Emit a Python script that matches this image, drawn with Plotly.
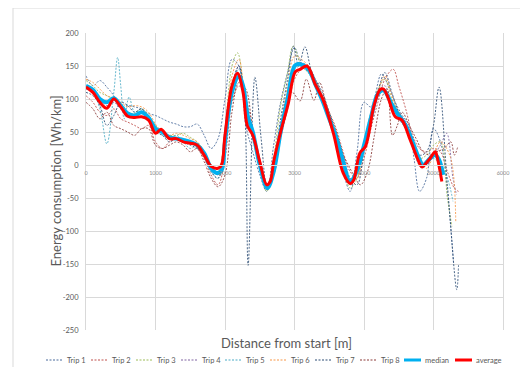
import plotly.graph_objects as go

# ---------------- data ----------------
trip1_x = [0, 100, 200, 300, 400, 500, 600, 700, 800, 900, 1000, 1100, 1200, 1300, 1400, 1500, 1600, 1700, 1800, 1900,
           2000, 2100, 2200, 2300, 2400, 2500, 2600, 2700, 2800, 2900, 3000, 3100, 3200, 3300, 3400, 3500, 3600, 3700,
           3800, 3900, 4000, 4100, 4250, 4350, 4450, 4550, 4650, 4720, 4800, 4900, 5000, 5100, 5200, 5290]
trip1_y = [135, 120, 128, 118, 105, 85, 90, 88, 85, 78, 75, 70, 65, 62, 58, 58, 62, 45, 25, 40,
           100, 160, 150, 60, 20, -15, -40, 30, 95, 140, 178, 150, 140, 120, 95, 75, 35, -10,
           -40, 20, 95, 88, 138, 120, 95, 75, 60, 10, -40, -20, 55, 35, -40, -150]

trip2_x = [0, 100, 200, 300, 400, 500, 600, 700, 800, 900, 1000, 1100, 1200, 1300, 1400, 1500, 1600, 1700, 1800, 1900,
           2000, 2100, 2200, 2300, 2400, 2500, 2600, 2700, 2800, 2900, 3000, 3100, 3200, 3300, 3400, 3500, 3600, 3700,
           3800, 3900, 4000, 4100, 4200, 4300, 4420, 4500, 4600, 4700, 4800, 4900, 5000, 5100, 5200, 5300, 5360]
trip2_y = [105, 95, 80, 75, 85, 70, 65, 60, 55, 60, 35, 25, 35, 40, 40, 35, 25, 10, -15, -30,
           10, 95, 120, 100, 55, 0, -30, -10, 40, 85, 130, 145, 148, 130, 105, 80, 55, 20,
           -10, -20, 10, 55, 95, 130, 145, 120, 85, 45, 25, 20, 25, 20, -10, -35, -40]

trip3_x = [0, 100, 200, 300, 400, 500, 600, 700, 800, 900, 1000, 1100, 1200, 1300, 1400, 1500, 1600, 1700, 1800, 1900,
           2000, 2100, 2180, 2300, 2400, 2500, 2600, 2700, 2800, 2900, 2980, 3100, 3200, 3300, 3400, 3500, 3600, 3700,
           3800, 3900, 4000, 4100, 4200, 4300, 4400, 4500, 4600, 4700, 4800, 4900, 5000, 5100, 5200, 5265]
trip3_y = [128, 120, 110, 105, 100, 88, 80, 78, 85, 75, 60, 50, 45, 45, 48, 42, 35, 20, -5, -10,
           55, 150, 170, 90, 40, -5, -40, 10, 90, 140, 180, 150, 140, 120, 95, 70, 40, 0,
           -35, -20, 35, 80, 115, 130, 100, 80, 60, 35, 10, 15, 30, 35, -50, -93]

trip4_x = [0, 100, 200, 300, 400, 500, 600, 700, 800, 900, 1000, 1100, 1200, 1300, 1400, 1500, 1600, 1700, 1800, 1900,
           2000, 2100, 2200, 2300, 2400, 2500, 2600, 2700, 2800, 2900, 3000, 3100, 3200, 3300, 3400, 3500, 3600, 3700,
           3800, 3900, 4000, 4100, 4200, 4300, 4400, 4500, 4600, 4700, 4800, 4900, 5000, 5100, 5190, 5280, 5330]
trip4_y = [120, 110, 100, 90, 95, 85, 80, 75, 78, 70, 55, 50, 42, 40, 38, 35, 30, 15, -5, -15,
           30, 115, 150, 85, 45, 5, -35, -5, 50, 100, 150, 155, 148, 125, 100, 70, 40, 5,
           -30, -10, 30, 75, 110, 120, 95, 78, 55, 30, 5, 0, 15, 30, 48, -20, -45]

trip5_x = [0, 100, 200, 300, 400, 455, 500, 550, 620, 700, 800, 900, 1000, 1100, 1200, 1300, 1400, 1500, 1600, 1700,
           1800, 1900, 2000, 2100, 2200, 2300, 2400, 2500, 2600, 2700, 2800, 2900, 3000, 3100, 3200, 3300, 3400, 3500,
           3600, 3700, 3800, 3900, 4000, 4100, 4200, 4300, 4400, 4500, 4600, 4700, 4800, 4900, 5000, 5100, 5200, 5280]
trip5_y = [115, 110, 85, 32, 110, 163, 120, 70, 103, 80, 85, 70, 55, 45, 40, 45, 35, 25, 30, 15,
           -10, -20, 30, 120, 145, 80, 40, 0, -35, 0, 45, 105, 145, 150, 145, 120, 95, 68,
           40, 0, -30, -15, 25, 70, 105, 115, 90, 70, 55, 30, 0, 5, 10, 0, -20, -55]

trip6_x = [0, 100, 200, 300, 400, 500, 600, 700, 800, 900, 1000, 1100, 1200, 1300, 1400, 1500, 1600, 1700, 1800, 1900,
           2000, 2100, 2200, 2300, 2400, 2500, 2600, 2700, 2800, 2900, 3000, 3100, 3200, 3300, 3400, 3500, 3600, 3700,
           3800, 3900, 4000, 4100, 4200, 4300, 4400, 4500, 4600, 4700, 4800, 4900, 5000, 5100, 5240, 5320]
trip6_y = [130, 125, 115, 105, 100, 95, 88, 90, 88, 80, 62, 50, 45, 48, 45, 40, 35, 20, 0, -5,
           45, 135, 160, 80, 45, 0, -30, 0, 60, 120, 165, 160, 150, 128, 105, 80, 50, 15,
           -25, -20, 25, 70, 110, 135, 105, 80, 60, 35, 5, -5, 15, 35, 13, -85]

trip7_x = [0, 100, 200, 300, 400, 500, 600, 700, 800, 900, 1000, 1100, 1200, 1300, 1400, 1500, 1600, 1700, 1800, 1900,
           2000, 2100, 2200, 2280, 2333, 2430, 2520, 2610, 2700, 2800, 2900, 2985, 3060, 3150, 3250, 3400, 3500, 3600,
           3700, 3800, 3900, 4000, 4100, 4200, 4300, 4400, 4500, 4600, 4700, 4800, 4900, 5000, 5080, 5200, 5335, 5360]
trip7_y = [110, 105, 90, 60, 75, 95, 90, 80, 85, 70, 50, 45, 35, 40, 35, 30, 25, 15, -10, -20,
           30, 120, 150, 90, -152, 133, 40, -38, 0, 70, 130, 180, 150, 179, 140, 110, 80, 50,
           15, -20, -30, 20, 60, 110, 140, 110, 80, 65, 40, 15, 20, 60, 118, -30, -189, -152]

trip8_x = [0, 100, 200, 300, 400, 500, 600, 700, 800, 900, 1000, 1100, 1200, 1300, 1400, 1500, 1600, 1700, 1800, 1900,
           2000, 2100, 2200, 2300, 2400, 2500, 2600, 2700, 2800, 2900, 2970, 3080, 3170, 3280, 3360, 3450, 3550, 3650,
           3750, 3850, 3950, 4050, 4150, 4250, 4330, 4410, 4480, 4550, 4650, 4750, 4850, 4950, 5050, 5150, 5250, 5300, 5350]
trip8_y = [95, 85, 70, 80, 60, 55, 50, 45, 55, 55, 30, 25, 30, 35, 30, 20, 25, 5, -20, -33,
           -15, 80, 125, 115, 50, -5, -30, -15, 50, 105, 110, 97, 130, 98, 125, 95, 55, 25,
           5, -15, -30, -10, 45, 100, 115, 45, 60, 80, 60, 40, 20, 15, 20, 25, 35, 15, 28]

median_x = [0, 100, 200, 300, 400, 500, 600, 700, 800, 900, 1000, 1100, 1200, 1300, 1400, 1500, 1600, 1700, 1800, 1880,
            1950, 2000, 2100, 2200, 2260, 2330, 2400, 2500, 2610, 2700, 2800, 2900, 3000, 3060, 3200, 3300, 3400, 3500,
            3600, 3700, 3800, 3900, 4000, 4100, 4200, 4280, 4400, 4480, 4600, 4700, 4800, 4850, 4950, 5020, 5080, 5140]
median_y = [120, 114, 100, 95, 101, 90, 78, 75, 80, 72, 55, 50, 42, 40, 38, 35, 30, 18, -5, -12,
            -8, 35, 110, 134, 120, 73, 50, 0, -35, -10, 50, 100, 150, 153, 145, 122, 98, 70,
            42, 5, -25, -8, 30, 72, 108, 113, 92, 78, 60, 35, 8, 0, 10, 15, 8, -15]

average_x = [0, 100, 200, 300, 400, 500, 600, 700, 800, 900, 1000, 1080, 1200, 1300, 1400, 1500, 1600, 1700, 1800, 1900,
             1950, 2000, 2100, 2180, 2260, 2320, 2400, 2500, 2600, 2650, 2700, 2800, 2910, 3010, 3080, 3180, 3300, 3415,
             3560, 3700, 3800, 3850, 3940, 4020, 4140, 4230, 4280, 4350, 4450, 4545, 4665, 4810, 4835, 4950, 5025, 5050, 5120]
average_y = [118, 110, 95, 86, 100, 88, 74, 72, 73, 68, 48, 54, 40, 40, 35, 33, 30, 15, -2, -5,
             0, 45, 120, 139, 110, 60, 45, 5, -30, -25, 5, 50, 93, 141, 145, 150, 122, 98,
             48, -12, -28, -23, 18, 28, 88, 114, 115, 101, 73, 68, 38, 0, -3, 10, 20, 13, -25]

series_names = ["Trip 1", "Trip 2", "Trip 3", "Trip 4", "Trip 5", "Trip 6", "Trip 7", "Trip 8", "median", "average"]
series_x = [trip1_x, trip2_x, trip3_x, trip4_x, trip5_x, trip6_x, trip7_x, trip8_x, median_x, average_x]
series_y = [trip1_y, trip2_y, trip3_y, trip4_y, trip5_y, trip6_y, trip7_y, trip8_y, median_y, average_y]

x_ticks = [0, 1000, 2000, 3000, 4000, 5000, 6000]
y_ticks = [-250, -200, -150, -100, -50, 0, 50, 100, 150, 200]

# ---------------- styles ----------------
colors = ["#4A6B9C", "#C0504D", "#9BBB59", "#8064A2", "#4BACC6", "#F79646", "#2C4D75", "#8B3A38", "#00B0F0", "#FF0000"]
widths = [1, 1, 1, 1, 1, 1, 1, 1, 4, 3]
dashes = ["2px,1.5px"] * 8 + ["solid", "solid"]
FONT = "Lato, Calibri, sans-serif"
GRID = "#d9d9d9"
TXT = "#595959"

fig = go.Figure()
for name, xs, ys, c, w, d in zip(series_names, series_x, series_y, colors, widths, dashes):
    fig.add_trace(go.Scatter(
        x=xs, y=ys, mode="lines", name=name, showlegend=False,
        line=dict(color=c, width=w, dash=d, shape="spline", smoothing=1.0),
        opacity=0.85 if w == 1 else 1.0,
    ))

# The page body has an 8px margin, so screen positions are offset by 8px.
OFF = 8
W, H = 528 - OFF, 367 - OFF
L, R, T, B = 86 - OFF, 25, 33 - OFF, 37
pw, ph = W - L - R, H - T - B


def sx(px):  # screen px -> paper x
    return (px - OFF - L) / pw


def sy(py):  # screen py -> paper y
    return (H - B - (py - OFF)) / ph


shapes = []
annotations = []

# chart-area border (top and left visible in the picture)
shapes.append(dict(type="rect", xref="paper", yref="paper",
                   x0=sx(13), x1=sx(560), y0=sy(400), y1=sy(8),
                   line=dict(color="#d9d9d9", width=1), layer="below"))

# custom legend
sample_starts = [46, 91, 136, 181, 225, 270, 315, 360, 404, 455]
leg_y = sy(360)
for name, c, w, d, s in zip(series_names, colors, widths, dashes, sample_starts):
    shapes.append(dict(type="line", xref="paper", yref="paper",
                       x0=sx(s), x1=sx(s + 17), y0=leg_y, y1=leg_y,
                       line=dict(color=c, width=3 if w > 1 else 1.2, dash=d)))
    annotations.append(dict(text=name, xref="paper", yref="paper", x=sx(s + 19), y=leg_y,
                            xanchor="left", yanchor="middle", showarrow=False,
                            font=dict(family=FONT, size=7.5, color=TXT)))

# axis titles
annotations.append(dict(text="Distance from start [m]", xref="paper", yref="paper",
                        x=sx(286.5), y=sy(343), xanchor="center", yanchor="middle",
                        showarrow=False, font=dict(family=FONT, size=13, color=TXT)))
annotations.append(dict(text="Energy consumption [Wh/km]", xref="paper", yref="paper",
                        x=sx(55), y=sy(181.5), xanchor="center", yanchor="middle",
                        textangle=-90, showarrow=False, font=dict(family=FONT, size=13, color=TXT)))

fig.update_layout(
    width=W, height=H,
    margin=dict(l=L, r=R, t=T, b=B, pad=0),
    paper_bgcolor="white", plot_bgcolor="white",
    font=dict(family=FONT, color=TXT),
    showlegend=False,
    shapes=shapes,
    annotations=annotations,
    xaxis=dict(range=[0, 6000], tickvals=x_ticks, ticktext=[str(v) for v in x_ticks],
               showgrid=True, gridcolor=GRID, gridwidth=1, zeroline=False,
               showline=True, linecolor=GRID, linewidth=1,
               anchor="free", position=250 / 450, ticks="",
               tickfont=dict(family=FONT, size=5.5, color="#8c8c8c"), ticklabelstandoff=2),
    yaxis=dict(range=[-250, 200], tickvals=y_ticks, ticktext=[str(v) for v in y_ticks],
               showgrid=True, gridcolor=GRID, gridwidth=1, zeroline=False,
               showline=True, linecolor=GRID, linewidth=1, mirror=True, ticks="",
               tickfont=dict(family=FONT, size=7.5, color=TXT), ticklabelstandoff=5),
)

fig.write_html("out.html")
